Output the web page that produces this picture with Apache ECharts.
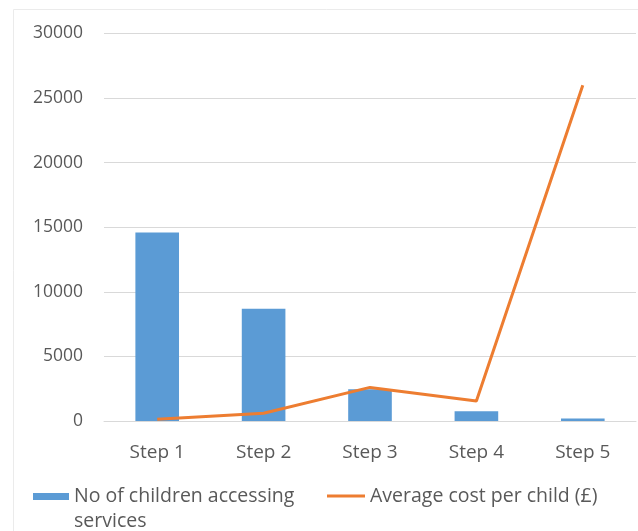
<!DOCTYPE html>
<html>
<head>
<meta charset="utf-8">
<script src="https://cdn.jsdelivr.net/npm/echarts@6/dist/echarts.min.js"></script>
<style>
  html, body { margin: 0; padding: 0; background: #fff; }
  #chart { width: 638px; height: 531px; }
</style>
</head>
<body>
<div id="chart"></div>
<script>
const categories = ['Step 1', 'Step 2', 'Step 3', 'Step 4', 'Step 5'];
const childrenCount = [14600, 8700, 2450, 750, 200];
const avgCost = [130, 600, 2600, 1550, 26000];
const yTicks = { min: 0, max: 30000, interval: 5000 };
const barName = 'No of children accessing services';
const lineName = 'Average cost per child (£)';

const FONT = 'Open Sans';
const TXT = '#595959';

const chart = echarts.init(document.getElementById('chart'), null, { renderer: 'canvas' });
chart.setOption({
  backgroundColor: '#ffffff',
  animation: false,
  textStyle: { fontFamily: FONT },
  graphic: [{
    type: 'rect', silent: true, z: -10,
    shape: { x: 13.5, y: 9.5, width: 700, height: 600 },
    style: { fill: 'none', stroke: '#ebebeb', lineWidth: 1 }
  }],
  grid: { left: 104, right: 2, top: 33.5, bottom: 110, containLabel: false },
  xAxis: {
    type: 'category',
    data: categories,
    axisLine: { show: true, lineStyle: { color: '#d9d9d9', width: 1 } },
    axisTick: { show: false },
    axisLabel: { color: TXT, fontSize: 19, fontFamily: FONT, margin: 22 }
  },
  yAxis: {
    type: 'value',
    min: yTicks.min, max: yTicks.max, interval: yTicks.interval,
    axisLine: { show: false },
    axisTick: { show: false },
    splitLine: { lineStyle: { color: '#d9d9d9', width: 1 } },
    axisLabel: { color: TXT, fontSize: 17.5, fontFamily: FONT, margin: 21, formatter: v => String(v) }
  },
  legend: [{
    left: 33, top: 486, padding: 0,
    data: [barName],
    itemWidth: 36, itemHeight: 7,
    icon: 'rect',
    formatter: () => '{a|No of children accessing}\n{b|services}',
    textStyle: {
      color: TXT, fontSize: 19.5, fontFamily: FONT,
      rich: {
        a: { color: TXT, fontSize: 19.5, fontFamily: FONT, lineHeight: 50 },
        b: { color: TXT, fontSize: 19.5, fontFamily: FONT, lineHeight: 1 }
      }
    }
  }, {
    left: 327, top: 484, padding: 0,
    data: [lineName],
    itemWidth: 38, itemHeight: 3,
    icon: 'rect',
    textStyle: { color: TXT, fontSize: 19.5, fontFamily: FONT, lineHeight: 24 }
  }],
  series: [{
    name: barName,
    type: 'bar',
    data: childrenCount,
    barWidth: '41%',
    itemStyle: { color: '#5b9bd5' }
  }, {
    name: lineName,
    type: 'line',
    data: avgCost,
    symbol: 'none',
    lineStyle: { color: '#ed7d31', width: 3 },
    itemStyle: { color: '#ed7d31' }
  }]
});
</script>
</body>
</html>
